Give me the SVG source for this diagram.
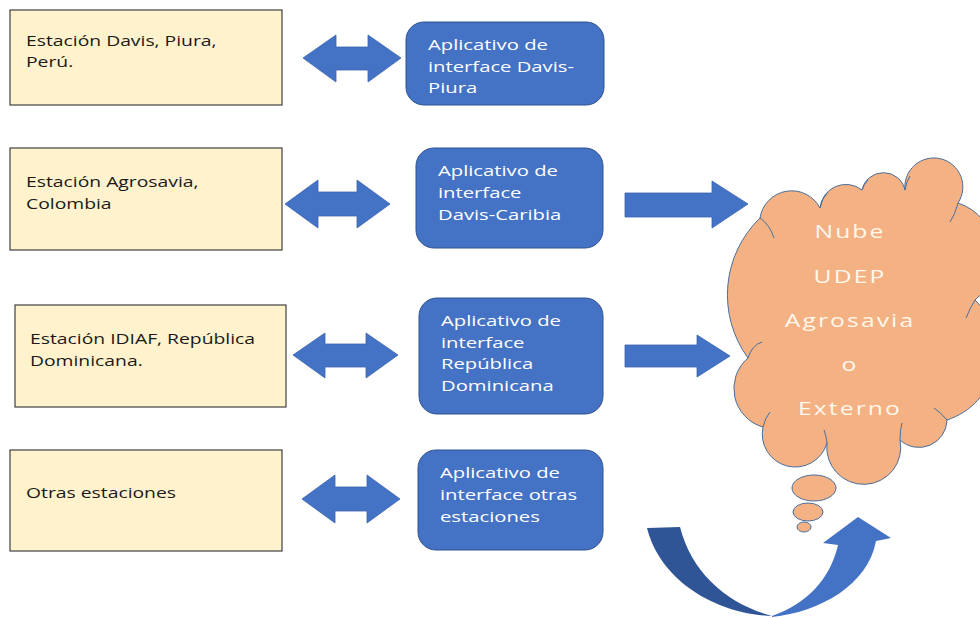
<svg xmlns="http://www.w3.org/2000/svg" width="980" height="618" viewBox="0 0 980 618">
<style>
.st{fill:#FFF2CC;stroke:#404040;stroke-width:1.2}
.ap{fill:#4472C4;stroke:#2F528F;stroke-width:1}
.ar{fill:#4472C4;stroke:#3A64AE;stroke-width:0.8}
.t{font-family:"Open Sans","Noto Sans",sans-serif;font-size:14px;fill:#1a1a1a}
.w{font-family:"Open Sans","Noto Sans",sans-serif;font-size:15px;fill:#FFFFFF}
.c{font-family:"Open Sans","Noto Sans",sans-serif;font-size:19px;fill:#FFF8EC;text-anchor:middle;letter-spacing:1.6px}
.cl{fill:#F4B183;stroke:#4A6E9A;stroke-width:1}
.seam{fill:none;stroke:#4A6E9A;stroke-width:1}
</style>
<rect width="980" height="618" fill="#FFFFFF"/>

<g id="estacion-davis">
<rect class="st" x="10" y="10" width="272" height="95"/>
<text class="t" transform="translate(26,46) scale(1.38,1)">Estación Davis, Piura,</text>
<text class="t" transform="translate(26,67) scale(1.38,1)">Perú.</text>
</g>
<g id="app-davis-piura">
<rect class="ap" x="406" y="22" width="198" height="83" rx="18"/>
<text class="w" transform="translate(428,50) scale(1.35,1)">Aplicativo de</text>
<text class="w" transform="translate(428,72) scale(1.35,1)">interface Davis-</text>
<text class="w" transform="translate(428,93) scale(1.35,1)">Piura</text>
</g>

<g id="estacion-agrosavia">
<rect class="st" x="10" y="148" width="272" height="102"/>
<text class="t" transform="translate(26,187) scale(1.38,1)">Estación Agrosavia,</text>
<text class="t" transform="translate(26,209) scale(1.38,1)">Colombia</text>
</g>
<g id="app-davis-caribia">
<rect class="ap" x="416" y="148" width="187" height="100" rx="18"/>
<text class="w" transform="translate(438,176) scale(1.35,1)">Aplicativo de</text>
<text class="w" transform="translate(438,198) scale(1.35,1)">interface</text>
<text class="w" transform="translate(438,220) scale(1.35,1)">Davis-Caribia</text>
</g>

<g id="estacion-idiaf">
<rect class="st" x="15" y="305" width="271" height="102"/>
<text class="t" transform="translate(30,344) scale(1.38,1)">Estación IDIAF, República</text>
<text class="t" transform="translate(30,366) scale(1.38,1)">Dominicana.</text>
</g>
<g id="app-republica-dominicana">
<rect class="ap" x="419" y="298" width="184" height="116" rx="18"/>
<text class="w" transform="translate(441,326) scale(1.35,1)">Aplicativo de</text>
<text class="w" transform="translate(441,348) scale(1.35,1)">interface</text>
<text class="w" transform="translate(441,369) scale(1.35,1)">República</text>
<text class="w" transform="translate(441,391) scale(1.35,1)">Dominicana</text>
</g>

<g id="otras-estaciones">
<rect class="st" x="10" y="450" width="272" height="101"/>
<text class="t" transform="translate(26,498) scale(1.38,1)">Otras estaciones</text>
</g>
<g id="app-otras-estaciones">
<rect class="ap" x="418" y="450" width="185" height="100" rx="18"/>
<text class="w" transform="translate(440,478) scale(1.35,1)">Aplicativo de</text>
<text class="w" transform="translate(440,500) scale(1.35,1)">interface otras</text>
<text class="w" transform="translate(440,522) scale(1.35,1)">estaciones</text>
</g>

<g id="nube">
<path class="cl" d="M748,358 A107,107 0 0 1 760,218 A32,32 0 0 1 820,208 A26,26 0 0 1 862,190 A22,22 0 0 1 905,190 A29,29 0 1 1 958,203 A56,56 0 0 1 975,300 A72,72 0 0 1 947,420 A28,28 0 0 1 900,440 A37,37 0 1 1 827,443 A33,33 0 0 1 763,427 A40,40 0 0 1 748,358 Z"/>
<path class="seam" d="M748,358 Q752,345 762,342"/>
<path class="seam" d="M760,218 Q770,225 774,238"/>
<path class="seam" d="M820,208 Q822,198 828,192"/>
<path class="seam" d="M862,190 Q864,184 868,180"/>
<path class="seam" d="M905,190 Q906,182 910,176"/>
<path class="seam" d="M958,203 Q955,215 950,222"/>
<path class="seam" d="M975,300 Q970,308 966,318"/>
<path class="seam" d="M947,420 Q940,412 934,408"/>
<path class="seam" d="M900,440 Q900,430 902,423"/>
<path class="seam" d="M827,443 Q826,435 824,430"/>
<path class="seam" d="M763,427 Q765,418 770,412"/>
<ellipse class="cl" cx="814" cy="488" rx="22" ry="13"/>
<ellipse class="cl" cx="808" cy="512" rx="15" ry="9"/>
<ellipse class="cl" cx="804" cy="527" rx="7" ry="5"/>
<text class="c" transform="translate(850,238) scale(1.3,1)">Nube</text>
<text class="c" transform="translate(850,283) scale(1.3,1)">UDEP</text>
<text class="c" transform="translate(850,327) scale(1.3,1)">Agrosavia</text>
<text class="c" transform="translate(850,371) scale(1.3,1)">o</text>
<text class="c" transform="translate(850,415) scale(1.3,1)">Externo</text>
</g>

<g id="connectors">
<path class="ar" d="M303,58 L336,35 L336,47 L368,47 L368,35 L401,58 L368,82 L368,70 L336,70 L336,82 Z"/>
<path class="ar" d="M285,204 L318,180 L318,192 L357,192 L357,180 L390,204 L357,228 L357,216 L318,216 L318,228 Z"/>
<path class="ar" d="M293,355 L325,333 L325,344 L366,344 L366,333 L398,355 L366,378 L366,367 L325,367 L325,378 Z"/>
<path class="ar" d="M302,499 L335,475 L335,487 L367,487 L367,475 L400,499 L367,523 L367,511 L335,511 L335,523 Z"/>
<path class="ar" d="M625,193 L712,193 L712,181 L748,204 L712,228 L712,217 L625,217 Z"/>
<path class="ar" d="M625,345 L697,345 L697,335 L730,356 L697,377 L697,367 L625,367 Z"/>
<path d="M647,528 L680,527 C692,574 728,604 772,616 C715,614 660,580 647,528 Z" fill="#2F5597"/>
<path d="M772,616 C806,604 830,580 838,545 L823,543 L858,517 L891,538 L876,541 C868,585 820,612 772,617 Z" fill="#4472C4"/>
</g>
</svg>
